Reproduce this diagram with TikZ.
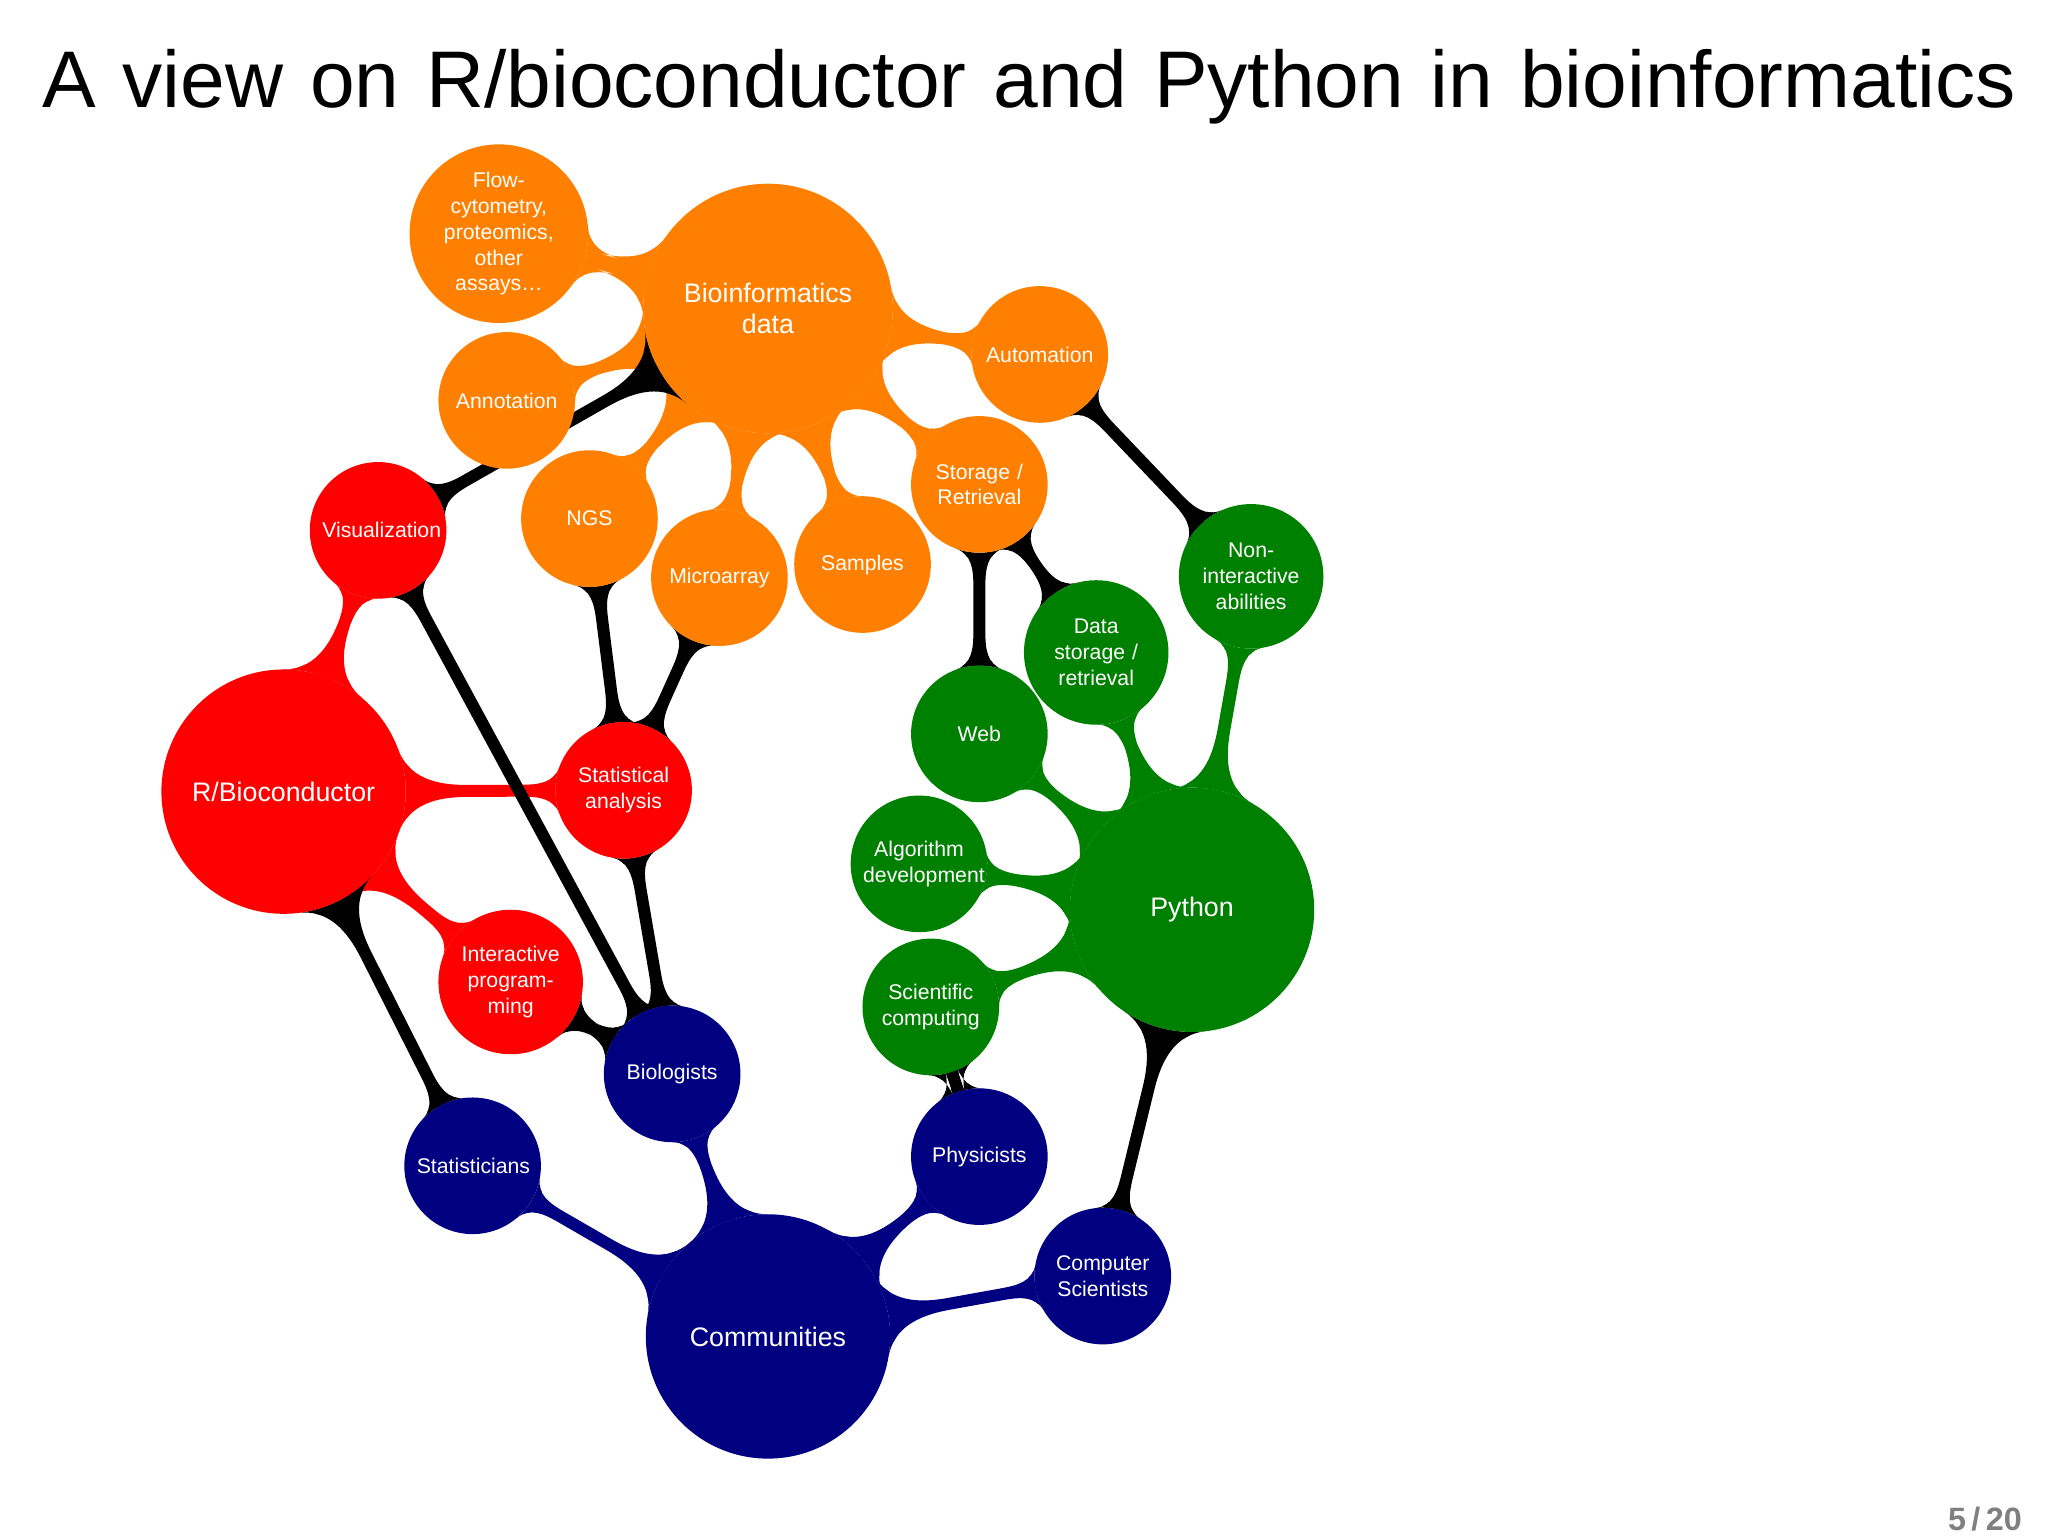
\documentclass[tikz,border=0pt]{standalone}
\usepackage{fontspec}
\setmainfont{Liberation Sans}
\usetikzlibrary{mindmap,backgrounds}
\definecolor{bor}{RGB}{255,128,0}
\definecolor{bre}{RGB}{255,0,0}
\definecolor{bgr}{RGB}{0,128,0}
\definecolor{bbl}{RGB}{0,0,128}
\begin{document}
\begin{tikzpicture}[mindmap,x=0.01cm,y=-0.01cm,
  c/.style={concept, circle, draw=none, text=white, font=\fontsize{4.6}{5.6}\selectfont, minimum size=#1, text width=0.85cm, inner sep=0pt, align=center},
  big/.style={concept, circle, draw=none, text=white, font=\fontsize{5.8}{6.8}\selectfont, minimum size=#1, text width=1.6cm, inner sep=0pt, align=center},
  co/.style={circle connection bar switch color=from (#1) to (#1)},
  bk/.style={circle connection bar switch color=from (black) to (black)}]
\useasboundingbox (0,0) rectangle (1560,1170);
\node[font=\fontsize{17.4}{20}\selectfont, text width=15.5cm, align=center] (title) at (784,66) {A view on R/bioconductor and Python in bioinformatics};
\node[font=\bfseries\fontsize{7}{8}\selectfont, text=gray, text width=1cm, align=center] (pg) at (1512,1157) {5\,/\,20};

\node[big=1.9cm, fill=bor] (bio) at (585,235) {Bioinformatics\\data};
\node[c=1.36cm, fill=bor] (flow) at (380,178) {Flow-\\cytometry,\\proteomics,\\other\\assays\ldots};
\node[c=1.04cm, fill=bor] (ann) at (386,305) {Annotation};
\node[c=1.04cm, fill=bor] (ngs) at (449,395) {NGS};
\node[c=1.04cm, fill=bor] (micro) at (548,440) {Microarray};
\node[c=1.04cm, fill=bor] (samp) at (657,430) {Samples};
\node[c=1.04cm, fill=bor] (stor) at (746,369) {Storage /\\Retrieval};
\node[c=1.04cm, fill=bor] (auto) at (792,270) {Automation};

\node[big=1.86cm, fill=bre] (r) at (216,603) {R/Bioconductor};
\node[c=1.04cm, fill=bre] (vis) at (288,404) {Visualization};
\node[c=1.04cm, fill=bre] (stat) at (475,602) {Statistical\\analysis};
\node[c=1.1cm, fill=bre] (inter) at (389,748) {Interactive\\program-\\ming};

\node[big=1.86cm, fill=bgr] (py) at (908,693) {Python};
\node[c=1.1cm, fill=bgr] (nonint) at (953,439) {Non-\\interactive\\abilities};
\node[c=1.1cm, fill=bgr] (dstor) at (835,497) {Data\\storage /\\retrieval};
\node[c=1.04cm, fill=bgr] (web) at (746,559) {Web};
\node[c=1.04cm, fill=bgr] (alg) at (700,658) {Algorithm\\development};
\node[c=1.04cm, fill=bgr] (sci) at (709,767) {Scientific\\computing};

\node[big=1.86cm, fill=bbl] (com) at (585,1018) {Communities};
\node[c=1.04cm, fill=bbl] (stats) at (360,888) {Statisticians};
\node[c=1.04cm, fill=bbl] (biol) at (512,818) {Biologists};
\node[c=1.04cm, fill=bbl] (phys) at (746,881) {Physicists};
\node[c=1.04cm, fill=bbl] (cs) at (840,972) {Computer\\Scientists};

\begin{scope}[on background layer]
\foreach \n in {flow,ann,ngs,micro,samp,stor,auto} \path (bio) to[co=bor] (\n);
\foreach \n in {vis,stat,inter} \path (r) to[co=bre] (\n);
\foreach \n in {nonint,dstor,web,alg,sci} \path (py) to[co=bgr] (\n);
\foreach \n in {stats,biol,phys,cs} \path (com) to[co=bbl] (\n);
\path (vis) to[bk] (bio);
\path (vis) to[bk] (biol);
\path (stat) to[bk] (ngs);
\path (stat) to[bk] (micro);
\path (stat) to[bk] (biol);
\path (r) to[bk] (stats);
\path (inter) to[bk] (biol);
\path (auto) to[bk] (nonint);
\path (stor) to[bk] (web);
\path (stor) to[bk] (dstor);
\path (sci) to[bk] (phys);
\path (py) to[bk] (cs);
\end{scope}
\end{tikzpicture}
\end{document}
